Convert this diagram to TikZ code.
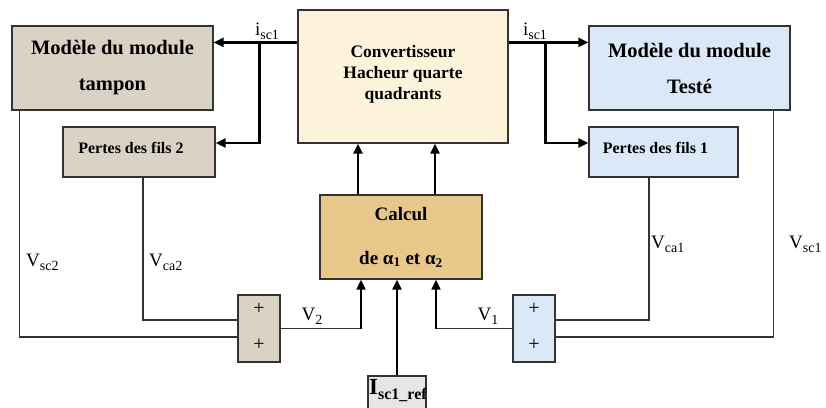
\documentclass[tikz,border=0pt]{standalone}
\usepackage{fontspec}
\setmainfont{Liberation Serif}
\usetikzlibrary{arrows.meta,calc}
\definecolor{beigeL}{HTML}{DAD2C4}
\definecolor{convY}{HTML}{FCF3DA}
\definecolor{blueR}{HTML}{DAE8F7}
\definecolor{calcT}{HTML}{E8C78A}
\definecolor{grayI}{HTML}{E6E6E6}
\definecolor{edge}{HTML}{333333}
\tikzset{
  blk/.style={draw=edge,line width=1.3pt,inner sep=0pt,align=center,font=\bfseries\fontsize{20.5}{24}\selectfont},
  thk/.style={line width=2.4pt,-{Triangle[length=10pt,width=9pt]}},
  thn/.style={line width=1.3pt,draw=edge},
  lab/.style={inner sep=0pt,font=\fontsize{19}{22}\selectfont},
  plus/.style={inner sep=0pt,font=\fontsize{20}{20}\selectfont}
}
\newcommand{\sbs}[1]{\raisebox{-4pt}{\fontsize{14}{14}\selectfont #1}}
\begin{document}
\begin{tikzpicture}[x=1pt,y=-1pt]
\useasboundingbox (0,0) rectangle (826,407);
% blocks
\node[blk,fill=beigeL,minimum width=201pt,minimum height=84pt] (tamp) at (112.5,68) {Modèle du module\\[12pt]tampon};
\node[blk,fill=beigeL,minimum width=152pt,minimum height=50pt,font=\bfseries\fontsize{16}{18}\selectfont] (p2) at (139,152) {\hspace*{-16pt}Pertes des fils 2\\[-10pt]};
\node[blk,fill=convY,minimum width=210pt,minimum height=133pt,font=\bfseries\fontsize{17.5}{21}\selectfont] (conv) at (403,76.5) {Convertisseur\\Hacheur quarte\\quadrants\\[-12pt]};
\node[blk,fill=blueR,minimum width=201pt,minimum height=84pt] (test) at (689.5,68) {Modèle du module\\[12pt]Testé};
\node[blk,fill=blueR,minimum width=149pt,minimum height=50pt,font=\bfseries\fontsize{16}{18}\selectfont] (p1) at (663.5,152) {\hspace*{-16pt}Pertes des fils 1\\[-10pt]};
\node[blk,fill=calcT,minimum width=162pt,minimum height=84pt,font=\bfseries\fontsize{19}{22}\selectfont] (calc) at (401,237) {Calcul\\[22pt]de α\textsubscript{1} et α\textsubscript{2}};
\node[blk,fill=beigeL,minimum width=42pt,minimum height=67pt] (sumL) at (259,328.5) {};
\node[blk,fill=blueR,minimum width=42pt,minimum height=67pt] (sumR) at (534,328.5) {};
\node[blk,fill=grayI,minimum width=58pt,minimum height=44pt] (iref) at (397,398) {};
\begin{scope}
\clip (iref.north west) rectangle (iref.south east);
\node[lab,anchor=west,font=\bfseries\fontsize{23}{24}\selectfont] (ireft) at (369,391) {I\raisebox{-5pt}{\fontsize{16}{16}\selectfont sc1\_ref}};
\end{scope}
% plus signs
\node[plus] (pl1) at ([yshift=20pt]sumL.center) {+};
\node[plus] (pl2) at ([yshift=-16.5pt]sumL.center) {+};
\node[plus] (pr1) at ([yshift=20pt]sumR.center) {+};
\node[plus] (pr2) at ([yshift=-16.5pt]sumR.center) {+};
% converter outputs
\coordinate (cl) at ([yshift=-33pt]conv.north west);
\coordinate (cr) at ([yshift=-33pt]conv.north east);
\draw[thk] (cl) -- (cl -| tamp.east);
\draw[thk] ([xshift=-38pt]cl) |- ([yshift=9pt]p2.east);
\draw[thk] (cr) -- (cr -| test.west);
\draw[thk] ([xshift=37pt]cr) |- ([yshift=9pt]p1.west);
\node[lab] (il) at (267,31) {i\sbs{sc1}};
\node[lab] (ir) at (535,31) {i\sbs{sc1}};
% calc to converter
\coordinate (ca) at ([xshift=-43pt]calc.north);
\coordinate (cb) at ([xshift=34pt]calc.north);
\draw[thk] (ca) -- (ca |- conv.south);
\draw[thk] (cb) -- (cb |- conv.south);
% inputs to calc
\coordinate (cb1) at ([xshift=-40pt]calc.south);
\coordinate (cb3) at ([xshift=35pt]calc.south);
\draw[thn] (sumL.east) -- (sumL.east -| cb1);
\draw[thk,line width=2pt] (sumL.east -| cb1) -- (cb1);
\draw[thn] (sumR.west) -- (sumR.west -| cb3);
\draw[thk,line width=2pt] (sumR.west -| cb3) -- (cb3);
\draw[thk] (iref.north) -- (iref.north |- calc.south);
\node[lab] (v2) at (312,316) {V\sbs{2}};
\node[lab] (v1) at (488,316) {V\sbs{1}};
% sum inputs
\draw[thn] ([xshift=4pt]p2.south) |- ([yshift=8.5pt]sumL.west);
\draw[thn] ([xshift=8pt]tamp.south west) |- ([yshift=-8.5pt]sumL.west);
\draw[thn] ([xshift=-14.5pt]p1.south) |- ([yshift=8.5pt]sumR.east);
\draw[thn] ([xshift=-17pt]test.south east) |- ([yshift=-8.5pt]sumR.east);
\node[lab,anchor=west] (vsc2) at (26,262) {V\sbs{sc2}};
\node[lab,anchor=west] (vca2) at (149,262) {V\sbs{ca2}};
\node[lab,anchor=west] (vca1) at (651,244) {V\sbs{ca1}};
\node[lab,anchor=west] (vsc1) at (789,244) {V\sbs{sc1}};
\end{tikzpicture}
\end{document}
